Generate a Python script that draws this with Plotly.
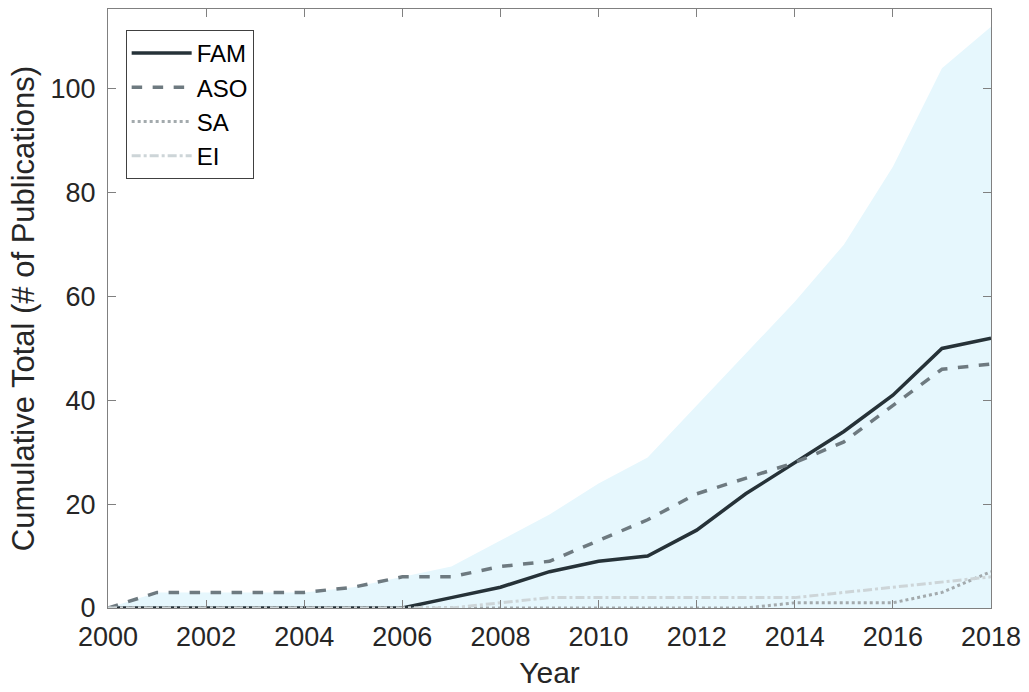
import plotly.graph_objects as go

years = list(range(2000, 2019))
fam = [0, 0, 0, 0, 0, 0, 0, 2, 4, 7, 9, 10, 15, 22, 28, 34, 41, 50, 52]
aso = [0, 3, 3, 3, 3, 4, 6, 6, 8, 9, 13, 17, 22, 25, 28, 32, 39, 46, 47]
sa = [0, 0, 0, 0, 0, 0, 0, 0, 0, 0, 0, 0, 0, 0, 1, 1, 1, 3, 7]
ei = [0, 0, 0, 0, 0, 0, 0, 0, 1, 2, 2, 2, 2, 2, 2, 3, 4, 5, 6]
total = [a + b + c + d for a, b, c, d in zip(fam, aso, sa, ei)]

x_ticks = list(range(2000, 2019, 2))
y_ticks = [0, 20, 40, 60, 80, 100]

FONT = "Liberation Sans, Arial"

fig = go.Figure()
fig.add_trace(go.Scatter(x=years, y=total, mode="lines", fill="tozeroy",
                         fillcolor="#E6F7FD", line=dict(width=0, color="#E6F7FD"),
                         showlegend=False, hoverinfo="skip"))
fig.add_trace(go.Scatter(x=years, y=fam, mode="lines", name="FAM",
                         line=dict(color="#263238", width=3.5)))
fig.add_trace(go.Scatter(x=years, y=aso, mode="lines", name="ASO",
                         line=dict(color="#6E7A80", width=3.5, dash="dash")))
fig.add_trace(go.Scatter(x=years, y=sa, mode="lines", name="SA",
                         line=dict(color="#A3AAAD", width=3, dash="dot")))
fig.add_trace(go.Scatter(x=years, y=ei, mode="lines", name="EI",
                         line=dict(color="#CDD5D8", width=3, dash="dashdot")))

axis_common = dict(showline=True, linecolor="#808080", linewidth=1, mirror="allticks",
                   ticks="inside", ticklen=8, tickcolor="#808080", showgrid=False,
                   zeroline=False, tickfont=dict(family=FONT, size=27, color="#262626"))

fig.update_xaxes(range=[2000, 2018], tickvals=x_ticks, ticktext=[str(v) for v in x_ticks],
                 ticklabelstandoff=5,
                 title=dict(text="Year", font=dict(family=FONT, size=30, color="#262626"), standoff=10),
                 **axis_common)
fig.update_yaxes(range=[0, 115.4], tickvals=y_ticks, ticktext=[str(v) for v in y_ticks],
                 ticklabelstandoff=6,
                 title=dict(text="Cumulative Total (# of Publications)", font=dict(family=FONT, size=31, color="#262626"), standoff=6),
                 **axis_common)

fig.update_layout(
    width=1029, height=692,
    margin=dict(l=108, r=36, t=8, b=84),
    paper_bgcolor="white", plot_bgcolor="white",
    legend=dict(x=0.02, y=0.965, xanchor="left", yanchor="top",
                bgcolor="white", bordercolor="#404040", borderwidth=1,
                font=dict(family=FONT, size=24, color="black"),
                itemwidth=60, tracegroupgap=0),
    showlegend=True,
)

fig.write_html("out.html")
